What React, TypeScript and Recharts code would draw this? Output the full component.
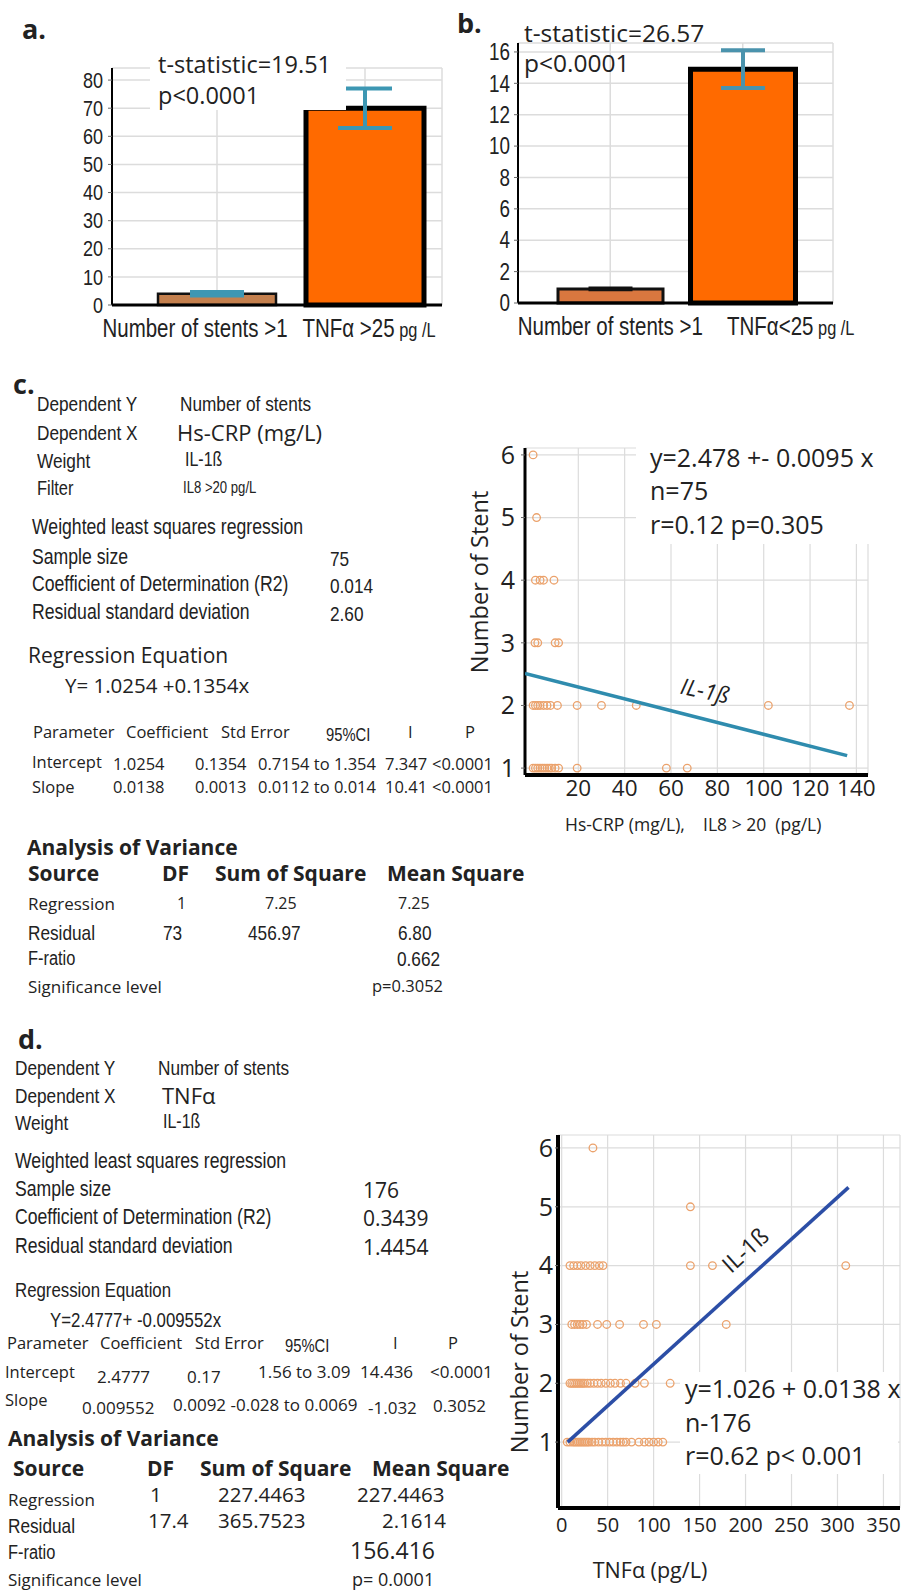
import React from "react";
import {
  Bar,
  BarChart,
  CartesianGrid,
  Cell,
  ErrorBar,
  Scatter,
  ScatterChart,
  XAxis,
  YAxis,
} from "recharts";

const OPEN = "'Open Sans', 'DejaVu Sans', sans-serif";
const ARIAL = "'Liberation Sans', Arial, sans-serif";
const SQUEEZE = 0.82; // Liberation Sans squeezed to look like a narrow face
const INK = "#222";

// panel a: bar chart
const aCats = ["Number of stents >1", "TNFα >25"];
const aUnits = ["", "pg /L"];
const aMeans = [4, 70];
const aErrs = [0.6, 7];
const aTicks = [0, 10, 20, 30, 40, 50, 60, 70, 80];

// panel b: bar chart
const bCats = ["Number of stents >1", "TNFα<25"];
const bUnits = ["", "pg /L"];
const bMeans = [0.9, 14.9];
const bErrs = [0.06, 1.2];
const bTicks = [0, 2, 4, 6, 8, 10, 12, 14, 16];

// panel c: Hs-CRP points, one list of x values per stent count
const cX1 = [0.5, 1.5, 2.5, 3.5, 4.5, 5.5, 6.5, 7.5, 8.5, 10, 11.5, 19.5, 58, 67];
const cX2 = [0.5, 1.5, 2.5, 3.5, 5, 6.5, 8, 11, 19.5, 30, 45, 102, 137];
const cX3 = [1.3, 2.5, 10, 11.5];
const cX4 = [1.5, 3.5, 5, 9.5];
const cX5 = [2];
const cX6 = [0.5];
const cFit = [
  { x: -3, y: 2.51 },
  { x: 136, y: 1.2 },
];
const cXTicks = [20, 40, 60, 80, 100, 120, 140];
const cYTicks = [1, 2, 3, 4, 5, 6];

// panel d: TNFα points
const dX1 = [6, 9, 12, 14, 16, 18, 20, 22, 24, 26, 28, 30, 33, 36, 40, 44, 48, 52, 56, 60, 64, 67, 70, 76, 84, 90, 95, 100, 105, 110];
const dX2 = [9, 11, 13, 15, 17, 19, 21, 23, 25, 28, 31, 35, 39, 43, 48, 53, 58, 64, 70, 80, 90, 118];
const dX3 = [11, 14, 17, 20, 23, 27, 39, 49, 63, 89, 103, 179];
const dX4 = [9, 13, 17, 21, 26, 31, 36, 41, 45, 140, 164, 309];
const dX5 = [140];
const dX6 = [34];
const dFit = [
  { x: 6.5, y: 1.0 },
  { x: 312, y: 5.33 },
];
const dXTicks = [0, 50, 100, 150, 200, 250, 300, 350];
const dYTicks = [1, 2, 3, 4, 5, 6];

const rows = (lists: number[][]) =>
  lists.flatMap((xs, i) => xs.map((x) => ({ x, y: i + 1 })));

const aData = aCats.map((c, i) => ({ name: c, v: aMeans[i], e: aErrs[i] }));
const bData = bCats.map((c, i) => ({
  name: c,
  v: bMeans[i],
  eDark: i === 0 ? bErrs[i] : null,
  eTeal: i === 1 ? bErrs[i] : null,
}));
const cData = rows([cX1, cX2, cX3, cX4, cX5, cX6]);
const dData = rows([dX1, dX2, dX3, dX4, dX5, dX6]);

type Kind = "n" | "o" | "b";
type TxtProps = {
  x: number;
  y: number;
  s?: number;
  k?: Kind;
  it?: boolean;
  rot?: number;
  mid?: boolean;
  lh?: number | string;
  children: React.ReactNode;
};

function T({ x, y, s = 20, k = "o", it = false, rot = 0, mid = false, lh = 1, children }: TxtProps) {
  const narrow = k === "n";
  return (
    <div
      style={{
        position: "absolute",
        left: x,
        top: y,
        transform: `translate(${mid ? "-50%" : "0"}, -50%) rotate(${rot}deg)${narrow ? ` scaleX(${SQUEEZE})` : ""}`,
        transformOrigin: mid ? "50% 50%" : "0 50%",
        fontSize: s,
        fontFamily: narrow ? ARIAL : OPEN,
        fontWeight: k === "b" ? 700 : 400,
        fontStyle: it ? "italic" : "normal",
        whiteSpace: "nowrap",
        lineHeight: lh,
        color: INK,
      }}
    >
      {children}
    </div>
  );
}

// [text, x, y, size, kind]
type Line = [string, number, number, number, Kind];
const textLines: Line[] = [
  // c
  ["Dependent Y", 37, 403, 21, "n"],
  ["Number of stents", 180, 403, 21, "n"],
  ["Dependent X", 37, 432, 21, "n"],
  ["Hs-CRP (mg/L)", 177, 432, 22, "o"],
  ["Weight", 37, 460, 21, "n"],
  ["IL-1ß", 185, 460, 19.5, "n"],
  ["Filter", 37, 488, 20, "n"],
  ["IL8  >20 pg/L", 183, 488, 16, "n"],
  ["Weighted least squares regression", 32, 528, 21.5, "n"],
  ["Sample size", 32, 558, 21.5, "n"],
  ["75", 330, 558, 21, "n"],
  ["Coefficient of Determination (R2)", 32, 585, 21.5, "n"],
  ["0.014", 330, 585, 21, "n"],
  ["Residual standard deviation", 32, 613, 21.5, "n"],
  ["2.60", 330, 613, 21, "n"],
  ["Regression Equation", 28, 655, 21, "o"],
  ["Y= 1.0254 +0.1354x", 65, 685, 20.5, "o"],
  ["Parameter", 33, 732, 16.5, "o"],
  ["Coefficient", 126, 732, 16.5, "o"],
  ["Std Error", 221, 732, 16.5, "o"],
  ["95%CI", 326, 735, 18, "n"],
  ["I", 408, 732, 16.5, "o"],
  ["P", 465, 732, 16.5, "o"],
  ["Intercept", 32, 762, 16.5, "o"],
  ["1.0254", 113, 764, 16.5, "o"],
  ["0.1354", 195, 764, 16.5, "o"],
  ["0.7154 to 1.354", 258, 764, 16.5, "o"],
  ["7.347", 385, 764, 16.5, "o"],
  ["<0.0001", 432, 764, 16.5, "o"],
  ["Slope", 32, 787, 16.5, "o"],
  ["0.0138", 113, 787, 16.5, "o"],
  ["0.0013", 195, 787, 16.5, "o"],
  ["0.0112 to 0.014", 258, 787, 16.5, "o"],
  ["10.41", 385, 787, 16.5, "o"],
  ["<0.0001", 432, 787, 16.5, "o"],
  ["Analysis of Variance", 27, 847, 21, "b"],
  ["Source", 28, 873, 21, "b"],
  ["DF", 162, 873, 21, "b"],
  ["Sum of Square", 215, 873, 21, "b"],
  ["Mean Square", 387, 873, 21, "b"],
  ["Regression", 28, 903, 17, "o"],
  ["1", 177, 903, 16, "o"],
  ["7.25", 265, 903, 16, "o"],
  ["7.25", 398, 903, 16, "o"],
  ["Residual", 28, 932, 21, "n"],
  ["73", 163, 932, 21, "n"],
  ["456.97", 248, 932, 21, "n"],
  ["6.80", 398, 932, 21, "n"],
  ["F-ratio", 28, 958, 20, "n"],
  ["0.662", 397, 958, 21, "n"],
  ["Significance level", 28, 986, 17, "o"],
  ["p=0.3052", 372, 986, 16.5, "o"],
  // d
  ["Dependent Y", 15, 1067, 21, "n"],
  ["Number of stents", 158, 1067, 21, "n"],
  ["Dependent X", 15, 1095, 21, "n"],
  ["TNFα", 162, 1095, 22, "o"],
  ["Weight", 15, 1122, 21, "n"],
  ["IL-1ß", 163, 1122, 19.5, "n"],
  ["Weighted least squares regression", 15, 1162, 21.5, "n"],
  ["Sample size", 15, 1190, 21.5, "n"],
  ["176", 363, 1190, 21, "o"],
  ["Coefficient of Determination (R2)", 15, 1218, 21.5, "n"],
  ["0.3439", 363, 1218, 21, "o"],
  ["Residual standard deviation", 15, 1247, 21.5, "n"],
  ["1.4454", 363, 1247, 21, "o"],
  ["Regression Equation", 15, 1290, 20.5, "n"],
  ["Y=2.4777+ -0.009552x", 50, 1320, 20.5, "n"],
  ["Parameter", 7, 1343, 16.5, "o"],
  ["Coefficient", 100, 1343, 16.5, "o"],
  ["Std Error", 195, 1343, 16.5, "o"],
  ["95%CI", 285, 1346, 18, "n"],
  ["I", 393, 1343, 16.5, "o"],
  ["P", 448, 1343, 16.5, "o"],
  ["Intercept", 5, 1372, 16.5, "o"],
  ["2.4777", 97, 1376, 17, "o"],
  ["0.17", 187, 1376, 17, "o"],
  ["1.56 to 3.09", 258, 1371, 17, "o"],
  ["14.436", 360, 1371, 17, "o"],
  ["<0.0001", 430, 1371, 17, "o"],
  ["Slope", 5, 1400, 16.5, "o"],
  ["0.009552", 82, 1407, 17, "o"],
  ["0.0092 -0.028 to 0.0069", 173, 1404, 17, "o"],
  ["-1.032", 368, 1407, 17, "o"],
  ["0.3052", 433, 1405, 17, "o"],
  ["Analysis of Variance", 8, 1438, 21, "b"],
  ["Source", 13, 1468, 21, "b"],
  ["DF", 147, 1468, 21, "b"],
  ["Sum of Square", 200, 1468, 21, "b"],
  ["Mean Square", 372, 1468, 21, "b"],
  ["Regression", 8, 1499, 17, "o"],
  ["1", 150, 1494, 20.5, "o"],
  ["227.4463", 218, 1494, 20.5, "o"],
  ["227.4463", 357, 1494, 20.5, "o"],
  ["Residual", 8, 1525, 21, "n"],
  ["17.4", 148, 1520, 20.5, "o"],
  ["365.7523", 218, 1520, 20.5, "o"],
  ["2.1614", 382, 1520, 20.5, "o"],
  ["F-ratio", 8, 1552, 20, "n"],
  ["156.416", 350, 1550, 23, "o"],
  ["Significance level", 8, 1578.5, 17, "o"],
  ["p= 0.0001", 352, 1578.5, 18, "o"],
];

const BarTick = (props: any) => {
  const { x, y, payload, index, units, shift } = props;
  return (
    <text
      transform={`translate(${x + shift[index]},${y + 24}) scale(${SQUEEZE},1)`}
      textAnchor="middle"
      fontFamily={ARIAL}
      fontSize={25}
      fill={INK}
    >
      {payload.value}
      {units[index] ? <tspan fontSize={20}> {units[index]}</tspan> : null}
    </text>
  );
};

const NarrowYTick = (props: any) => {
  const { x, y, payload, size } = props;
  return (
    <text
      transform={`translate(${x},${y}) scale(${SQUEEZE},1)`}
      textAnchor="end"
      dominantBaseline="central"
      fontFamily={ARIAL}
      fontSize={size}
      fill={INK}
    >
      {payload.value}
    </text>
  );
};

const Ring = (p: any) => (
  <circle cx={p.cx} cy={p.cy} r={3.8} fill="none" stroke="#eba26c" strokeWidth={1.3} />
);
const NoDot = () => <g />;

const gridColor = "#dcdcdc";

export default function App() {
  return (
    <div style={{ position: "absolute", left: 0, top: 0, width: 904, height: 1591, background: "#fff", overflow: "hidden" }}>
      {/* a */}
      <div style={{ position: "absolute", left: 40, top: 50 }}>
        <BarChart width={430} height={300} data={aData} margin={{ top: 18, right: 28, bottom: 0, left: 0 }}>
          <CartesianGrid stroke={gridColor} strokeWidth={1.5} />
          <XAxis
            dataKey="name"
            height={45}
            padding={{ left: 31, right: 3 }}
            axisLine={{ stroke: "#000", strokeWidth: 3 }}
            tickLine={false}
            tick={<BarTick units={aUnits} shift={[-22, 4]} />}
            interval={0}
          />
          <YAxis
            width={72}
            domain={[0, 84.3]}
            ticks={aTicks}
            interval={0}
            axisLine={{ stroke: "#000", strokeWidth: 2 }}
            tickSize={4}
            tickMargin={5}
            tick={<NarrowYTick size={22} />}
          />
          <Bar dataKey="v" barSize={118} isAnimationActive={false}>
            <Cell fill="#c4804e" stroke="#111" strokeWidth={2.5} />
            <Cell fill="#ff6a00" stroke="#000" strokeWidth={5} />
            <ErrorBar dataKey="e" width={27} stroke="#3d97b3" strokeWidth={4} direction="y" />
          </Bar>
        </BarChart>
      </div>
      <div style={{ position: "absolute", left: 150, top: 50, width: 196, height: 60, background: "#fff" }} />
      <T x={22} y={28} s={27} k="b">a.</T>
      <T x={158} y={80} s={23.5} lh="31px">
        t-statistic=19.51
        <br />
        p&lt;0.0001
      </T>

      {/* b */}
      <div style={{ position: "absolute", left: 440, top: 20 }}>
        <BarChart width={430} height={328} data={bData} margin={{ top: 23, right: 37, bottom: 0, left: 0 }}>
          <CartesianGrid stroke={gridColor} strokeWidth={1.5} />
          <XAxis
            dataKey="name"
            height={45}
            padding={{ left: 26, right: 24 }}
            axisLine={{ stroke: "#000", strokeWidth: 3 }}
            tickLine={false}
            tick={<BarTick units={bUnits} shift={[0, 48]} />}
            interval={0}
          />
          <YAxis
            width={78}
            domain={[0, 16.57]}
            ticks={bTicks}
            interval={0}
            axisLine={{ stroke: "#000", strokeWidth: 2 }}
            tickSize={4}
            tickMargin={4}
            tick={<NarrowYTick size={23} />}
          />
          <Bar dataKey="v" barSize={105} isAnimationActive={false}>
            <Cell fill="#d9773f" stroke="#111" strokeWidth={3} />
            <Cell fill="#ff6a00" stroke="#000" strokeWidth={5} />
            <ErrorBar dataKey="eDark" width={22} stroke="#111" strokeWidth={3} direction="y" />
            <ErrorBar dataKey="eTeal" width={22} stroke="#4a93ad" strokeWidth={4} direction="y" />
          </Bar>
        </BarChart>
      </div>
      <T x={457} y={22} s={27} k="b">b.</T>
      <T x={524} y={48} s={24.5} lh="30px">
        t-statistic=26.57
        <br />
        p&lt;0.0001
      </T>

      {/* c */}
      <T x={13} y={383} s={27} k="b">c.</T>
      <div style={{ position: "absolute", left: 440, top: 420 }}>
        <ScatterChart width={464} height={415} margin={{ top: 28, right: 36, bottom: 0, left: 0 }}>
          <CartesianGrid stroke={gridColor} strokeWidth={1.2} />
          <XAxis
            type="number"
            dataKey="x"
            domain={[-3, 145]}
            ticks={cXTicks}
            interval={0}
            allowDataOverflow
            height={60}
            axisLine={{ stroke: "#000", strokeWidth: 4 }}
            tickSize={0}
            tickMargin={5}
            tick={{ fontSize: 22.5, fontFamily: OPEN, fill: INK }}
          />
          <YAxis
            type="number"
            dataKey="y"
            domain={[0.89, 6.11]}
            ticks={cYTicks}
            interval={0}
            allowDataOverflow
            width={85}
            axisLine={{ stroke: "#000", strokeWidth: 3 }}
            tickSize={4}
            tickMargin={6}
            tick={{ fontSize: 25, fontFamily: OPEN, fill: INK }}
          />
          <Scatter data={cData} shape={Ring} isAnimationActive={false} />
          <Scatter
            data={cFit}
            shape={NoDot}
            line={{ stroke: "#2f8cae", strokeWidth: 3.5 }}
            isAnimationActive={false}
          />
        </ScatterChart>
      </div>
      <div style={{ position: "absolute", left: 636, top: 438, width: 250, height: 106, background: "#fff" }} />
      <T x={650} y={457} s={25}>y=2.478 +- 0.0095 x</T>
      <T x={650} y={490} s={25}>n=75</T>
      <T x={650} y={524} s={25}>r=0.12 p=0.305</T>
      <T x={705} y={691} s={22.5} it rot={12} mid>IL-1ß</T>
      <T x={480} y={582} s={23.5} rot={-90} mid>Number of Stent</T>
      <T x={565} y={825} s={17.5}>Hs-CRP (mg/L),&nbsp;&nbsp;&nbsp; IL8 &gt; 20&nbsp; (pg/L)</T>

      {/* d */}
      <T x={18} y={1038} s={27} k="b">d.</T>
      <div style={{ position: "absolute", left: 480, top: 1110 }}>
        <ScatterChart width={424} height={448} margin={{ top: 25, right: 4, bottom: 0, left: 0 }}>
          <CartesianGrid stroke={gridColor} strokeWidth={1.2} />
          <XAxis
            type="number"
            dataKey="x"
            domain={[-4, 368]}
            ticks={dXTicks}
            interval={0}
            allowDataOverflow
            height={50}
            axisLine={{ stroke: "#000", strokeWidth: 4 }}
            tickSize={0}
            tickMargin={10}
            tick={{ fontSize: 20, fontFamily: OPEN, fill: INK }}
          />
          <YAxis
            type="number"
            dataKey="y"
            domain={[-0.12, 6.22]}
            ticks={dYTicks}
            interval={0}
            allowDataOverflow
            width={78}
            axisLine={{ stroke: "#000", strokeWidth: 4 }}
            tickSize={3}
            tickMargin={2}
            tick={{ fontSize: 25, fontFamily: OPEN, fill: INK }}
          />
          <Scatter data={dData} shape={Ring} isAnimationActive={false} />
          <Scatter
            data={dFit}
            shape={NoDot}
            line={{ stroke: "#2c4ea6", strokeWidth: 3.5 }}
            isAnimationActive={false}
          />
        </ScatterChart>
      </div>
      <div style={{ position: "absolute", left: 680, top: 1372, width: 218, height: 102, background: "#fff" }} />
      <T x={685} y={1388} s={25}>y=1.026 + 0.0138 x</T>
      <T x={685} y={1422} s={25}>n-176</T>
      <T x={685} y={1455} s={25}>r=0.62 p&lt; 0.001</T>
      <T x={745} y={1250} s={23} rot={-42} mid>IL-1ß</T>
      <T x={520} y={1362} s={23.5} rot={-90} mid>Number of Stent</T>
      <T x={650} y={1570} s={21.5} mid>TNFα (pg/L)</T>

      {textLines.map(([t, x, y, s, k], i) => (
        <T key={i} x={x} y={y} s={s} k={k}>
          {t}
        </T>
      ))}
    </div>
  );
}
